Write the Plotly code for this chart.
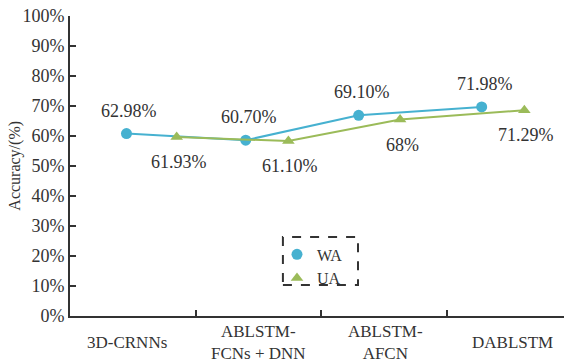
import plotly.graph_objects as go

categories = ["3D-CRNNs", "ABLSTM-<br>FCNs + DNN", "ABLSTM-<br>AFCN", "DABLSTM"]
wa_x = [0.45, 1.40, 2.30, 3.28]
wa_y = [60.8, 58.6, 66.9, 69.7]
wa_labels = ["62.98%", "60.70%", "69.10%", "71.98%"]
ua_x = [0.85, 1.74, 2.63, 3.62]
ua_y = [59.7, 58.3, 65.5, 68.6]
ua_labels = ["61.93%", "61.10%", "68%", "71.29%"]
y_ticks = [0, 10, 20, 30, 40, 50, 60, 70, 80, 90, 100]

WA_COLOR = "#46B1D0"
UA_COLOR = "#9BBB59"
AXIS = "#333333"
FONT = "Liberation Serif, Times New Roman, Tinos, serif"
cat_label_xshift = [-6, 0, 2, 3]

fig = go.Figure()
fig.add_trace(go.Scatter(x=wa_x, y=wa_y, mode="lines+markers", showlegend=False,
                         line=dict(color=WA_COLOR, width=2),
                         marker=dict(symbol="circle", size=11, color=WA_COLOR)))
fig.add_trace(go.Scatter(x=ua_x, y=ua_y, mode="lines+markers", showlegend=False,
                         line=dict(color=UA_COLOR, width=2),
                         marker=dict(symbol="triangle-up", size=11, color=UA_COLOR)))
# legend entries (markers only)
fig.add_trace(go.Scatter(x=[None], y=[None], mode="markers", name="WA",
                         marker=dict(symbol="circle", size=11, color=WA_COLOR)))
fig.add_trace(go.Scatter(x=[None], y=[None], mode="markers", name="UA",
                         marker=dict(symbol="triangle-up", size=11, color=UA_COLOR)))

annotations = []
for x, y, t in zip(wa_x, wa_y, wa_labels):
    annotations.append(dict(x=x, y=y, text=t, showarrow=False, yshift=23, xshift=3,
                            font=dict(family=FONT, size=18, color=AXIS)))
for x, y, t in zip(ua_x, ua_y, ua_labels):
    annotations.append(dict(x=x, y=y, text=t, showarrow=False, yshift=-25, xshift=2,
                            font=dict(family=FONT, size=18, color=AXIS)))
for i, c in enumerate(categories):
    annotations.append(dict(x=i + 0.5, y=-0.087, xref="x", yref="paper", text=c,
                            showarrow=False, yanchor="middle", xanchor="center",
                            xshift=cat_label_xshift[i],
                            font=dict(family=FONT, size=17, color=AXIS)))
annotations.append(dict(x=-0.112, y=0.5, xref="paper", yref="paper", text="Accuracy/(%)",
                        textangle=-90, showarrow=False, xanchor="center", yanchor="middle",
                        font=dict(family=FONT, size=16, color=AXIS)))

fig.update_layout(
    width=564, height=359,
    margin=dict(l=70, r=0, t=16, b=43),
    paper_bgcolor="white", plot_bgcolor="white",
    font=dict(family=FONT, color=AXIS),
    xaxis=dict(range=[0, 3.936], showgrid=False, zeroline=False, showline=True,
               linecolor=AXIS, linewidth=2, tickvals=[1, 2, 3], ticktext=["", "", ""],
               ticks="inside", ticklen=6, tickwidth=1.5, tickcolor=AXIS),
    yaxis=dict(range=[0, 100], showgrid=False, zeroline=False, showline=True,
               linecolor=AXIS, linewidth=2, tickvals=y_ticks,
               ticktext=[f"{v}%" for v in y_ticks],
               ticks="inside", ticklen=6, tickwidth=1.5, tickcolor=AXIS,
               tickfont=dict(family=FONT, size=18, color=AXIS)),
    legend=dict(x=0.419, y=0.262, xanchor="left", yanchor="top",
                bgcolor="rgba(0,0,0,0)", borderwidth=0, tracegroupgap=0,
                font=dict(family=FONT, size=16, color=AXIS)),
    shapes=[dict(type="rect", xref="paper", yref="paper",
                 x0=0.431, x1=0.583, y0=0.103, y1=0.263,
                 line=dict(color=AXIS, width=2, dash="dash"))],
    annotations=annotations,
)

fig.write_html("out.html", config={"displayModeBar": False},
               post_script="document.body.style.margin='0';")
